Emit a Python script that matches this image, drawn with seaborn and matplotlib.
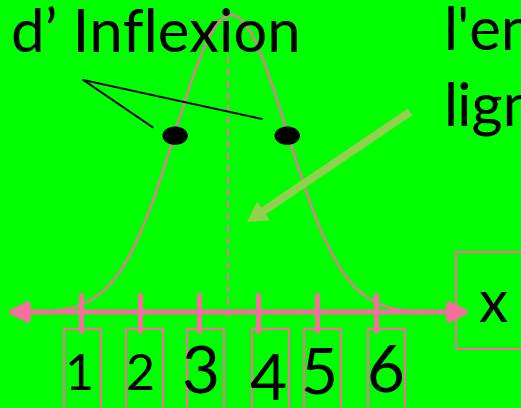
import numpy as np
import pandas as pd
import matplotlib.pyplot as plt
import seaborn as sns
from matplotlib.patches import Ellipse, Rectangle, FancyArrowPatch

# données
tick_values = [1, 2, 3, 4, 5, 6]
tick_labels = ["1", "2", "3", "4", "5", "6"]
label_sizes = [36, 36, 47, 46, 46, 47]          # taille des chiffres (pt)
label_centers = [79, 140, 200, 268, 319, 385]   # position x en pixels
label_baselines = [390, 390, 393, 400, 393, 391]
box_centers = [82.5, 144, 205, 270, 322, 386]
mu = 3.55
sigma = 0.95
axis_sym = 3.5
curve_range = (0.15, 6.9)
title_text = "d\u2019 Inflexion"
right_lines = ["l'en", "lign"]

W, H = 521, 408
pink = "#F56E9E"
green_bg = "#00FF00"
arrow_green = "#92D050"

sns.set_style("white")
plt.rcParams['font.family'] = ['Lato', 'DejaVu Sans']

fig = plt.figure(figsize=(W / 100, H / 100), dpi=100)
fig.patch.set_facecolor(green_bg)
ax = fig.add_axes([0, 0, 1, 1])
ax.set_facecolor(green_bg)

# pixel -> data : x = 1 + (px - 80.7)/59 ; y = (313 - py)/298
ax.set_xlim(1 + (0 - 80.7) / 59, 1 + (W - 80.7) / 59)
ax.set_ylim(-(H - 313) / 298, 313 / 298)
ax.axis("off")


def px(x, y):
    return (x / W, 1 - y / H)


# courbe en cloche
xs = np.linspace(curve_range[0], curve_range[1], 400)
df = pd.DataFrame({"x": xs, "y": np.exp(-0.5 * ((xs - mu) / sigma) ** 2)})
sns.lineplot(data=df, x="x", y="y", ax=ax, color=pink, linewidth=1.6, zorder=2)

# axe de symétrie
ax.plot([axis_sym, axis_sym], [-0.015, 1.0], color=pink, lw=1.4, dashes=(4, 2.2), zorder=2)

# points d'inflexion
for xi in (mu - sigma, mu + sigma):
    ax.add_patch(Ellipse((xi, 0.595), 24 / 59, 17 / 298, color="black", zorder=4))

# axe des x avec flèches
ax.add_patch(FancyArrowPatch(px(6, 312), px(471, 312), transform=fig.transFigure,
                             arrowstyle="<|-|>,head_length=0.6,head_width=0.3",
                             mutation_scale=20, color=pink, lw=3.6, shrinkA=0, shrinkB=0,
                             zorder=3))

# graduations
for t in tick_values:
    ax.plot([t, t], [0.067, -0.067], color=pink, lw=3.6, solid_capstyle="butt", zorder=3)

# cadres des chiffres
for c in box_centers:
    x0, y0 = px(c - 18.5, 420)
    x1, y1 = px(c + 18.5, 329)
    ax.add_patch(Rectangle((x0, y0), x1 - x0, y1 - y0, transform=fig.transFigure,
                           fill=False, ec=pink, lw=1.5, zorder=2))

for lab, s, cx, by in zip(tick_labels, label_sizes, label_centers, label_baselines):
    fig.text(*px(cx, by), lab, fontsize=s, ha="center", va="baseline", color="black")

# cadre du x
x0, y0 = px(456, 349)
x1, y1 = px(530, 252)
ax.add_patch(Rectangle((x0, y0), x1 - x0, y1 - y0, transform=fig.transFigure,
                       fill=False, ec=pink, lw=1.5, zorder=2))
fig.text(*px(478, 322), "x", fontsize=42, ha="left", va="baseline", color="black")

# textes
fig.text(*px(11, 52), title_text, fontsize=43, ha="left", va="baseline", color="black")
fig.text(*px(444, 50), right_lines[0], fontsize=43, ha="left", va="baseline", color="black")
fig.text(*px(444, 126), right_lines[1], fontsize=43, ha="left", va="baseline", color="black")

# traits vers les points d'inflexion
for ex, ey in [(152.7, 127.3), (262, 119)]:
    x0, y0 = px(83.3, 80)
    x1, y1 = px(ex, ey)
    ax.plot([x0, x1], [y0, y1], transform=fig.transFigure, color="black", lw=1.4, zorder=4)

# flèche verte
ax.add_patch(FancyArrowPatch(px(410, 112), px(247, 222), transform=fig.transFigure,
                             arrowstyle="simple,head_length=1.44,head_width=1.65,tail_width=0.58",
                             mutation_scale=10, color=arrow_green, lw=0, shrinkA=0, shrinkB=0,
                             zorder=4))

plt.savefig("out.png", dpi=100, facecolor=green_bg)
